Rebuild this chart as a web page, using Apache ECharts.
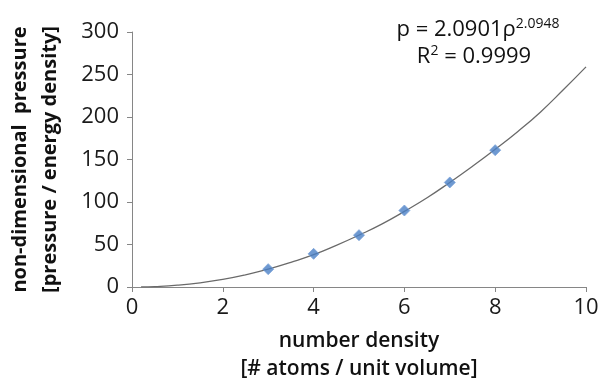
<!DOCTYPE html>
<html>
<head>
<meta charset="utf-8">
<script src="https://cdn.jsdelivr.net/npm/echarts@6/dist/echarts.min.js"></script>
<style>
html,body{margin:0;padding:0;background:#fff;}
#chart{width:602px;height:383px;}
</style>
</head>
<body>
<div id="chart"></div>
<script>
// Measured data points (number density, non-dimensional pressure)
var densities = [3, 4, 5, 6, 7, 8];
var pressures = [21, 39, 61, 90, 123, 161];
// Trendline
var trendX = [0.2, 0.5, 1, 1.5, 2, 2.5, 3, 3.5, 4, 4.5, 5, 5.5, 6, 6.5, 7, 7.5, 8, 8.5, 9, 9.5, 10];
var trendY = [0.1, 0.5, 2.1, 4.9, 9, 14.4, 21, 29, 38, 49, 61, 74, 89, 105, 123, 142, 162, 183, 206, 232, 259];
var xTicks = [0, 2, 4, 6, 8, 10];
var yTicks = [0, 50, 100, 150, 200, 250, 300];
var eqLine1 = 'p = 2.0901ρ';
var eqExp = '2.0948';
var eqLine2a = 'R';
var eqLine2b = ' = 0.9999';

var chart = echarts.init(document.getElementById('chart'));
var font = '"Open Sans", sans-serif';
var trend = trendX.map(function (x, i) { return [x, trendY[i]]; });
var pts = densities.map(function (x, i) { return [x, pressures[i]]; });

chart.setOption({
  animation: false,
  backgroundColor: '#fff',
  grid: { left: 132, right: 16, top: 32, bottom: 96, outerBoundsMode: 'none', containLabel: false },
  xAxis: {
    type: 'value', min: 0, max: 10, interval: 2,
    axisLine: { lineStyle: { color: '#868686', width: 1 } },
    axisTick: { show: true, length: 5, lineStyle: { color: '#868686' } },
    splitLine: { show: false },
    axisLabel: { color: '#1a1a1a', fontFamily: font, fontSize: 22, margin: 10 },
    name: 'number density\n[# atoms / unit volume]',
    nameLocation: 'middle', nameGap: 40,
    nameTextStyle: { color: '#111', fontFamily: font, fontSize: 21, fontWeight: 600, lineHeight: 28 }
  },
  yAxis: {
    type: 'value', min: 0, max: 300, interval: 50,
    axisLine: { show: true, lineStyle: { color: '#868686', width: 1 } },
    axisTick: { show: true, length: 5, lineStyle: { color: '#868686' } },
    splitLine: { show: false },
    axisLabel: { color: '#1a1a1a', fontFamily: font, fontSize: 22, margin: 13 },
    name: 'non-dimensional  pressure\n[pressure / energy density]',
    nameLocation: 'middle', nameGap: 67,
    nameTextStyle: { color: '#111', fontFamily: font, fontSize: 20, fontWeight: 'bold', lineHeight: 30 }
  },
  graphic: [{
    type: 'text', x: 478, y: 30,
    style: {
      text: '{a|' + eqLine1 + '}{s|' + eqExp + '}',
      align: 'center', verticalAlign: 'middle',
      rich: {
        a: { fontFamily: font, fontSize: 22, fill: '#111' },
        s: { fontFamily: font, fontSize: 14, fill: '#111', verticalAlign: 'top', padding: [0, 0, 12, 0] }
      }
    }
  }, {
    type: 'text', x: 474, y: 57,
    style: {
      text: '{b|' + eqLine2a + '}{t|2}{b|' + eqLine2b + '}',
      align: 'center', verticalAlign: 'middle',
      rich: {
        b: { fontFamily: font, fontSize: 22, fill: '#111' },
        t: { fontFamily: font, fontSize: 14, fill: '#111', verticalAlign: 'top', padding: [0, 0, 12, 0] }
      }
    }
  }],
  series: [{
    type: 'line', data: trend, smooth: true, showSymbol: false, symbol: 'none',
    lineStyle: { color: '#6a6a6a', width: 1.3 }, z: 2
  }, {
    type: 'scatter', data: pts, symbol: 'diamond', symbolSize: 11,
    itemStyle: { color: '#4a7fc6', borderColor: '#7ba3d8', borderWidth: 1 }, z: 3
  }]
});
</script>
</body>
</html>
